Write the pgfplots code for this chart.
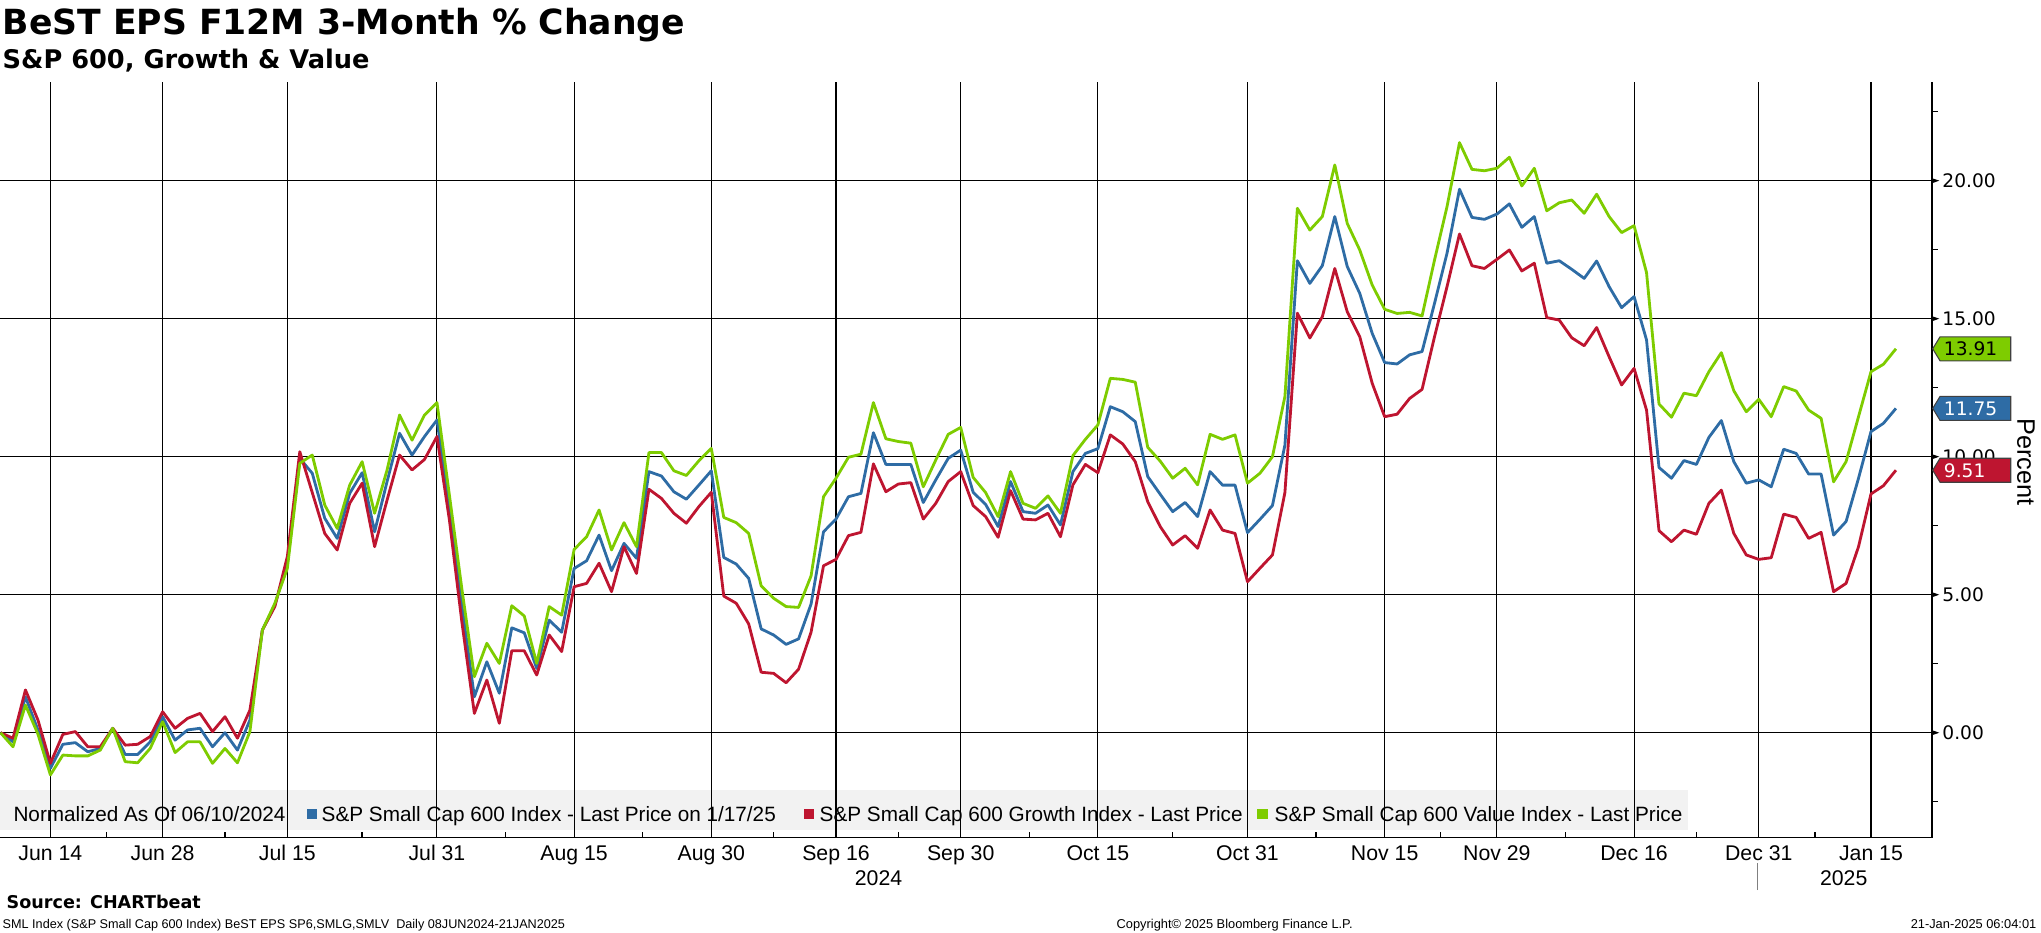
\documentclass[border=0pt]{standalone}
\usepackage{pgfplots}
\pgfplotsset{compat=1.18}
\usepackage{pgfplotstable}
\usepackage{fontspec}
\setmainfont{Liberation Sans}
\newfontfamily\dvs{DejaVu Sans}
\definecolor{sblue}{RGB}{46,108,165}
\definecolor{sred}{RGB}{190,21,48}
\definecolor{sgreen}{RGB}{126,204,0}
\definecolor{bandgray}{RGB}{242,242,242}

\pgfplotstableread{
i blue red green
0 0 0 0
1 -0.33 -0.20 -0.51
2 1.30 1.55 1.00
3 0.10 0.46 -0.05
4 -1.29 -1.11 -1.53
5 -0.42 -0.06 -0.81
6 -0.36 0.04 -0.84
7 -0.69 -0.51 -0.84
8 -0.57 -0.51 -0.63
9 0.16 0.16 0.16
10 -0.79 -0.45 -1.05
11 -0.79 -0.42 -1.09
12 -0.33 -0.14 -0.57
13 0.58 0.76 0.40
14 -0.27 0.16 -0.72
15 0.10 0.52 -0.33
16 0.16 0.70 -0.33
17 -0.51 0.04 -1.11
18 0.00 0.58 -0.57
19 -0.63 -0.20 -1.09
20 0.46 0.82 0.04
21 3.72 3.72 3.72
22 4.63 4.57 4.69
23 6.14 6.38 5.95
24 9.94 10.18 9.76
25 9.40 8.70 10.06
26 7.77 7.22 8.25
27 7.04 6.62 7.40
28 8.67 8.31 8.97
29 9.42 9.04 9.82
30 7.28 6.74 7.95
31 9.10 8.43 9.52
32 10.85 10.06 11.51
33 10.06 9.52 10.60
34 10.73 9.90 11.51
35 11.33 10.73 11.96
36 8.20 7.70 8.60
37 4.60 4.00 5.20
38 1.30 0.70 2.03
39 2.57 1.91 3.24
40 1.43 0.34 2.51
41 3.80 2.97 4.60
42 3.62 2.97 4.23
43 2.33 2.09 2.51
44 4.08 3.54 4.57
45 3.64 2.94 4.26
46 5.95 5.29 6.64
47 6.23 5.41 7.10
48 7.16 6.14 8.07
49 5.87 5.11 6.62
50 6.86 6.74 7.61
51 6.32 5.77 6.74
52 9.46 8.82 10.15
53 9.30 8.49 10.15
54 8.73 7.95 9.49
55 8.46 7.59 9.32
56 8.97 8.19 9.85
57 9.49 8.71 10.30
58 6.35 4.95 7.80
59 6.11 4.69 7.61
60 5.59 3.94 7.22
61 3.76 2.19 5.32
62 3.54 2.15 4.87
63 3.20 1.81 4.57
64 3.40 2.30 4.54
65 4.66 3.64 5.68
66 7.28 6.05 8.55
67 7.74 6.28 9.22
68 8.55 7.14 9.98
69 8.67 7.26 10.09
70 10.87 9.74 11.96
71 9.72 8.73 10.65
72 9.72 9.01 10.55
73 9.72 9.06 10.49
74 8.34 7.74 8.91
75 9.16 8.31 9.88
76 9.94 9.10 10.81
77 10.24 9.46 11.06
78 8.71 8.23 9.25
79 8.27 7.83 8.70
80 7.47 7.08 7.83
81 9.10 8.77 9.46
82 8.01 7.74 8.31
83 7.95 7.71 8.13
84 8.25 7.95 8.58
85 7.53 7.10 7.95
86 9.46 8.98 10.04
87 10.12 9.72 10.63
88 10.29 9.42 11.15
89 11.81 10.79 12.84
90 11.63 10.46 12.80
91 11.27 9.82 12.70
92 9.28 8.37 10.34
93 8.64 7.47 9.84
94 8.01 6.80 9.22
95 8.34 7.14 9.58
96 7.83 6.68 8.98
97 9.46 8.07 10.81
98 8.97 7.34 10.63
99 8.97 7.22 10.79
100 7.25 5.47 9.04
101 7.73 5.96 9.40
102 8.23 6.44 10.00
103 10.42 8.70 12.18
104 17.10 15.20 19.00
105 16.28 14.30 18.21
106 16.92 15.07 18.70
107 18.70 16.82 20.57
108 16.89 15.25 18.45
109 15.92 14.35 17.49
110 14.47 12.66 16.22
111 13.41 11.45 15.34
112 13.36 11.54 15.19
113 13.69 12.11 15.23
114 13.81 12.44 15.10
115 15.56 14.35 17.13
116 17.37 16.16 19.06
117 19.69 18.07 21.38
118 18.67 16.92 20.41
119 18.60 16.82 20.36
120 18.79 17.15 20.45
121 19.16 17.49 20.85
122 18.31 16.73 19.81
123 18.70 17.01 20.45
124 17.01 15.04 18.91
125 17.10 14.95 19.20
126 16.79 14.31 19.30
127 16.46 14.02 18.82
128 17.09 14.68 19.51
129 16.16 13.62 18.70
130 15.40 12.60 18.12
131 15.80 13.20 18.37
132 14.23 11.69 16.67
133 9.61 7.32 11.91
134 9.22 6.92 11.43
135 9.86 7.34 12.30
136 9.72 7.19 12.21
137 10.70 8.31 13.08
138 11.31 8.79 13.77
139 9.82 7.22 12.39
140 9.04 6.44 11.63
141 9.16 6.28 12.08
142 8.91 6.34 11.45
143 10.27 7.92 12.54
144 10.12 7.80 12.38
145 9.37 7.04 11.69
146 9.37 7.26 11.39
147 7.16 5.11 9.09
148 7.65 5.41 9.82
149 9.22 6.74 11.45
150 10.91 8.65 13.08
151 11.21 8.95 13.35
152 11.75 9.51 13.91
}\datatable

\newcommand\valtag[4]{%
  \filldraw[fill=#2, draw=black!75, line width=0.3pt] (#1) ++(0.01,0) -- ++(0.073,0.12) -- ++(0.707,0) -- ++(0,-0.24) -- ++(-0.707,0) -- cycle;
  \node[anchor=west, inner sep=0pt, text=#3, font=\dvs\fontsize{5.3}{6}\selectfont] at ([xshift=0.115cm]#1) {#4};
}

\begin{document}
\begin{tikzpicture}[x=1cm,y=1cm]
\useasboundingbox (0,0) rectangle (20.41,9.32);

% titles
\node[anchor=base west, inner sep=0pt, font=\dvs\bfseries\fontsize{9.85}{11}\selectfont] at (0.02,8.97) {BeST EPS F12M 3-Month \% Change};
\node[anchor=base west, inner sep=0pt, font=\dvs\bfseries\fontsize{7.3}{9}\selectfont] at (0.02,8.63) {S\&P 600, Growth \& Value};

% legend band (drawn before the axis so that the grid lies over it)
\fill[bandgray] (0,1.02) rectangle (16.88,1.42);
\begin{scope}[every node/.style={anchor=base west, inner sep=0pt, font=\fontsize{5.9}{7}\selectfont}]
\node at (0.128,1.103) {Normalized As Of 06/10/2024};
\fill[sblue] (3.07,1.13) rectangle (3.17,1.23);
\node at (3.21,1.103) {S\&P Small Cap 600 Index - Last Price on 1/17/25};
\fill[sred] (8.036,1.13) rectangle (8.144,1.23);
\node at (8.19,1.103) {S\&P Small Cap 600 Growth Index - Last Price};
\fill[sgreen] (12.57,1.13) rectangle (12.676,1.23);
\node at (12.74,1.103) {S\&P Small Cap 600 Value Index - Last Price};
\end{scope}

\begin{axis}[
  at={(0cm,0.943cm)}, anchor=south west,
  scale only axis, width=19.317cm, height=7.554cm,
  xmin=-0.042, xmax=154.87, ymin=-3.804, ymax=23.565,
  axis x line*=bottom, axis y line*=right,
  axis line style={black, line width=0.45pt},
  xtick={4,13,23,35,46,57,67,77,88,100,111,120,131,141,150},
  xticklabels={Jun 14,Jun 28,Jul 15,Jul 31,Aug 15,Aug 30,Sep 16,Sep 30,Oct 15,Oct 31,Nov 15,Nov 29,Dec 16,Dec 31,Jan 15},
  minor xtick={8.5,18,29,40.5,51.5,62,72,82.5,94,105.5,115.5,125.5,136,145.5},
  ytick={0,5,10,15,20},
  minor ytick={-2.5,2.5,7.5,12.5,17.5,22.5},
  xtick align=inside, ytick align=outside,
  major tick length=0cm, minor tick length=0.06cm,
  minor tick style={black, line width=0.4pt},
  grid=major,
  major grid style={black, line width=0.3pt},
  /pgf/number format/fixed, /pgf/number format/fixed zerofill,
  /pgf/number format/precision=2, /pgf/number format/assume math mode=true,
  xticklabel style={font=\fontsize{6.05}{7}\selectfont, anchor=base, inner sep=0pt, yshift=-0.223cm},
  yticklabel style={font=\dvs\fontsize{5.3}{6}\selectfont, anchor=west, inner sep=0pt, xshift=0.10cm},
  ylabel={Percent},
  ylabel style={at={(rel axis cs:1.0488,0.4974)}, anchor=center, rotate=180, font=\fontsize{7.2}{8}\selectfont},
]
\addplot[sblue, line width=0.8pt, line join=round] table[x=i, y=blue] {\datatable};
\addplot[sred, line width=0.8pt, line join=round] table[x=i, y=red] {\datatable};
\addplot[sgreen, line width=0.8pt, line join=round] table[x=i, y=green] {\datatable};
\pgfplotsinvokeforeach{0,5,10,15,20}{\coordinate (yt#1) at (axis cs:154.87,#1);}
\coordinate (tagG) at (axis cs:154.87,13.91);
\coordinate (tagB) at (axis cs:154.87,11.75);
\coordinate (tagR) at (axis cs:154.87,9.51);
\end{axis}

% tick triangles on the right axis
\foreach \v in {0,5,10,15,20} {\fill (yt\v) ++(0,0.026) -- ++(0.076,-0.026) -- ++(-0.076,-0.026) -- cycle;}

% last-value tags
\valtag{tagG}{sgreen}{black}{13.91}
\valtag{tagB}{sblue}{white}{11.75}
\valtag{tagR}{sred}{white}{9.51}

% years
\node[anchor=base, inner sep=0pt, font=\fontsize{6.05}{7}\selectfont] at (8.785,0.47) {2024};
\node[anchor=base, inner sep=0pt, font=\fontsize{6.05}{7}\selectfont] at (18.437,0.47) {2025};
\draw[gray, line width=0.35pt] (17.576,0.42) -- (17.576,0.69);

% footer
\node[anchor=base west, inner sep=0pt, font=\dvs\bfseries\fontsize{5.0}{6}\selectfont] at (0.06,0.24) {Source: CHARTbeat};
\node[anchor=base west, inner sep=0pt, font=\fontsize{3.6}{4}\selectfont] at (0.02,0.04) {SML Index (S\&P Small Cap 600 Index) BeST EPS SP6,SMLG,SMLV\ \ Daily 08JUN2024-21JAN2025};
\node[anchor=base west, inner sep=0pt, font=\fontsize{3.65}{4}\selectfont] at (11.16,0.04) {Copyright© 2025 Bloomberg Finance L.P.};
\node[anchor=base east, inner sep=0pt, font=\fontsize{3.65}{4}\selectfont] at (20.37,0.04) {21-Jan-2025 06:04:01};
\end{tikzpicture}
\end{document}
